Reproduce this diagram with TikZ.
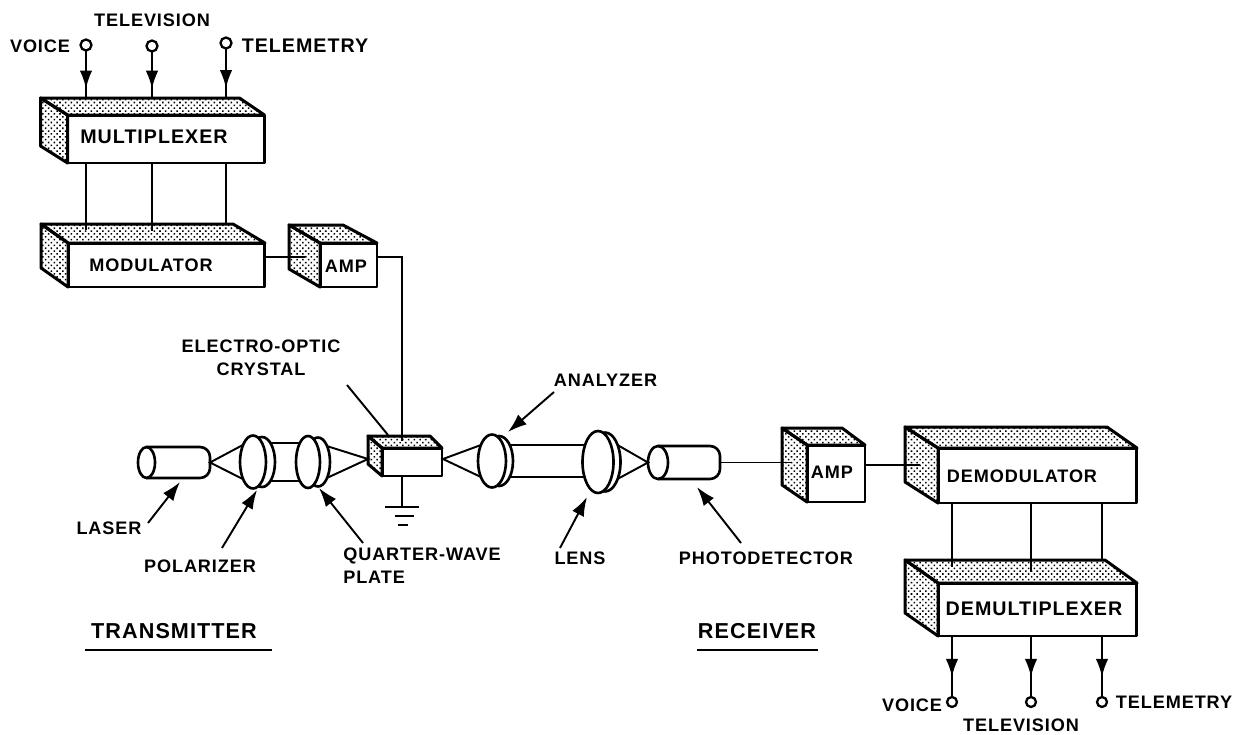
\documentclass[tikz,border=0pt]{standalone}
\usepackage{fontspec}
\setmainfont[LetterSpace=5]{Liberation Sans}
\usetikzlibrary{arrows.meta,patterns.meta,decorations.markings,shapes.geometric}

\tikzset{
  block/.style={draw,line width=1.7pt,fill=white,inner sep=0pt,outer sep=0pt,line join=round},
  stipple/.style={draw,line width=1.7pt,line join=round,pattern={Dots[distance=2.3pt,radius=0.62pt,angle=45]}},
  wire/.style={line width=1.1pt},
  port/.style={circle,draw,line width=1.3pt,fill=white,minimum size=0.22cm,inner sep=0pt,outer sep=0pt},
  lbl/.style={font=\fontsize{10.3pt}{13pt}\selectfont\bfseries,inner sep=0pt},
  widelbl/.style={font=\fontsize{11.2pt}{13pt}\selectfont\bfseries,inner sep=0pt},
  biglbl/.style={font=\fontsize{12.3pt}{13pt}\selectfont\bfseries,inner sep=0pt},
  signal/.style={wire,postaction={decorate},decoration={markings,mark=at position #1 with {\arrow{Latex[length=0.36cm,width=0.25cm]}}}},
  callout/.style={line width=1.1pt,-{Latex[length=0.38cm,width=0.26cm]}},
  glass/.style={ellipse,draw,line width=1.5pt,fill=white,inner sep=0pt,outer sep=0pt},
  tube/.style={inner sep=0pt,outer sep=0pt},
  beam/.style={line width=1.1pt}
}

% shaded top and side of a block: name, left shift, right shift, rise
\newcommand{\blockfaces}[4]{
  \coordinate (#1b) at ([shift={(-#2,-#4)}]#1.north west);
  \coordinate (#1c) at ([shift={(-#3,-#4)}]#1.north east);
  \coordinate (#1d) at ([shift={(-#2,-#4)}]#1.south west);
  \draw[stipple] (#1.north west)--(#1b)--(#1c)--(#1.north east)--cycle;
  \draw[stipple] (#1.north west)--(#1b)--(#1d)--(#1.south west)--cycle;
}

\begin{document}
\begin{tikzpicture}[x=0.02cm,y=-0.02cm]
\useasboundingbox (0,0) rectangle (1248,734);

% transmitter blocks
\node[block,minimum width=3.94cm,minimum height=0.96cm] (mux) at (166,139) {};
\node[block,minimum width=3.94cm,minimum height=0.88cm] (mod) at (166.5,265) {};
\node[block,minimum width=1.14cm,minimum height=0.88cm] (amp) at (348.5,265) {};
\node[block,minimum width=1.2cm,minimum height=0.56cm] (crystal) at (412,462) {};
\blockfaces{mux}{27}{25}{17}
\blockfaces{mod}{27}{32}{19}
\blockfaces{amp}{31}{34}{18}
\blockfaces{crystal}{14}{12}{12}

% receiver blocks
\node[block,minimum width=1.16cm,minimum height=1.14cm] (ampb) at (836,473.5) {};
\node[block,minimum width=3.98cm,minimum height=1.1cm] (demod) at (1037.5,475.5) {};
\node[block,minimum width=3.98cm,minimum height=1.06cm] (demux) at (1037.5,609.5) {};
\blockfaces{ampb}{25}{23}{17}
\blockfaces{demod}{33}{30}{21}
\blockfaces{demux}{33}{32}{23}

\node[widelbl] (muxtext) at (154,137) {MULTIPLEXER};
\node[lbl] (modtext) at (151,265) {MODULATOR};
\node[lbl] (amptext) at (346,266) {AMP};
\node[lbl] (ampbtext) at (832,472) {AMP};
\node[lbl] (demodtext) at (1022,476) {DEMODULATOR};
\node[widelbl] (demuxtext) at (1034,609) {DEMULTIPLEXER};

% input side
\node[port] (pva) at (86,45) {};
\node[port] (pvb) at (152,46) {};
\node[port] (pvc) at (226,43) {};
\node[lbl] (voicea) at (40,46) {VOICE};
\node[lbl] (tva) at (152,20) {TELEVISION};
\node[widelbl] (telea) at (305,46) {TELEMETRY};
\draw[signal=0.8] (pva) -- (pva |- muxb);
\draw[signal=0.8] (pvb) -- (pvb |- muxb);
\draw[signal=0.8] (pvc) -- (pvc |- muxb);

\coordinate (moda) at (86,230);
\coordinate (modb) at (152,231);
\coordinate (modc) at (226,225);
\draw[wire] (moda |- mux.south) -- (moda);
\draw[wire] (modb |- mux.south) -- (modb);
\draw[wire] (modc |- mux.south) -- (modc);

\coordinate (ampin) at (305,257);
\coordinate (amprise) at (402,257);
\coordinate (crytop) at (402,441);
\coordinate (crybot) at (402,476);
\coordinate (gnd) at (402,507);
\draw[wire] (ampin -| mod.east) -- (ampin);
\draw[wire] (amprise -| amp.east) -- (amprise) -- (crytop);
\draw[wire] (crybot) -- (gnd);
\draw[line width=1.5pt] (385,507) -- (419,507);
\draw[line width=1.5pt] (395,516) -- (414,516);
\draw[line width=1.5pt] (398,525) -- (408,525);

% optical train
\node[tube,minimum width=1.26cm,minimum height=0.62cm] (laser) at (178.5,462.5) {};
\node[glass,minimum width=0.34cm,minimum height=0.62cm] (laserend) at (146.5,462.5) {};
\draw[line width=1.5pt,rounded corners=0.2cm] (laserend.north) -- (laser.north east) -- (laser.south east) -- (laserend.south);

\node[glass,minimum width=0.52cm,minimum height=1cm] (polrim) at (262,462) {};
\node[glass,minimum width=0.52cm,minimum height=1.06cm] (pol) at (253,462) {};
\node[glass,minimum width=0.48cm,minimum height=0.98cm] (qwprim) at (318,462) {};
\node[glass,minimum width=0.48cm,minimum height=1.04cm] (qwp) at (308,462) {};
\node[glass,minimum width=0.56cm,minimum height=1cm] (anarim) at (499,461) {};
\node[glass,minimum width=0.56cm,minimum height=1.06cm] (ana) at (492,461) {};
\node[glass,minimum width=0.62cm,minimum height=1.18cm] (lensrim) at (605,462) {};
\node[glass,minimum width=0.62cm,minimum height=1.24cm] (lens) at (598,462) {};

\node[tube,minimum width=1.24cm,minimum height=0.66cm] (photo) at (689,462.5) {};
\node[glass,minimum width=0.4cm,minimum height=0.66cm] (photoend) at (658,462.5) {};
\draw[line width=1.5pt,rounded corners=0.2cm] (photoend.north) -- (photo.north east) -- (photo.south east) -- (photoend.south);

\coordinate (cryl) at (368,459);
\coordinate (cryr) at (443,459);
\draw[beam] (pol.120) -- (laser.east) -- (pol.240);
\draw[beam] (polrim.65) -- (polrim.65 -| qwp.113);
\draw[beam] (polrim.-65) -- (polrim.-65 -| qwp.-113);
\draw[beam] (qwprim.60) -- (cryl) -- (qwprim.-60);
\draw[beam] (ana.125) -- (cryr) -- (ana.235);
\draw[beam] (anarim.55) -- (anarim.55 -| lens.127);
\draw[beam] (anarim.-55) -- (anarim.-55 -| lens.233);
\draw[beam] (lensrim.53) -- (photoend.west) -- (lensrim.-53);

% output side
\coordinate (ampbin) at (792,462.5);
\coordinate (demodin) at (920,465);
\draw[wire] (photo.east) -- (ampbin);
\draw[wire] (demodin -| ampb.east) -- (demodin);

\coordinate (demuxa) at (952,567);
\coordinate (demuxb) at (1031,572);
\coordinate (demuxc) at (1102,560);
\draw[wire] (demuxa |- demod.south) -- (demuxa);
\draw[wire] (demuxb |- demod.south) -- (demuxb);
\draw[wire] (demuxc |- demod.south) -- (demuxc);

\node[port,minimum size=0.2cm] (pwa) at (952,702) {};
\node[port,minimum size=0.2cm] (pwb) at (1031,702) {};
\node[port,minimum size=0.2cm] (pwc) at (1102,702) {};
\draw[signal=0.67] (pwa |- demux.south) -- (pwa);
\draw[signal=0.67] (pwb |- demux.south) -- (pwb);
\draw[signal=0.67] (pwc |- demux.south) -- (pwc);
\node[lbl] (voiceb) at (912,705) {VOICE};
\node[lbl] (tvb) at (1021,725) {TELEVISION};
\node[lbl] (teleb) at (1174,702) {TELEMETRY};

% labels with their pointers
\node[lbl,align=center] (crylabel) at (261,358) {ELECTRO-OPTIC\\CRYSTAL};
\node[lbl] (laserlabel) at (109,528) {LASER};
\node[lbl] (pollabel) at (200,566) {POLARIZER};
\node[lbl,align=left] (qwplabel) at (422,566) {QUARTER-WAVE\\PLATE};
\node[lbl] (analabel) at (605.5,380) {ANALYZER};
\node[lbl] (lenslabel) at (580,558) {LENS};
\node[lbl] (photolabel) at (766,558) {PHOTODETECTOR};

\coordinate (cryptr) at (347,385);
\coordinate (crytip) at (388,435);
\coordinate (laserptr) at (148,523);
\coordinate (lasertip) at (180,482);
\coordinate (polptr) at (222,548);
\coordinate (poltip) at (257,490);
\coordinate (qwpptr) at (363,543);
\coordinate (qwptip) at (319,488);
\coordinate (anaptr) at (554,392);
\coordinate (anatip) at (508,432);
\coordinate (lensptr) at (560,548);
\coordinate (lenstip) at (587,497);
\coordinate (photoptr) at (741,543);
\coordinate (phototip) at (697,487);
\draw[wire] (cryptr) -- (crytip);
\draw[callout] (laserptr) -- (lasertip);
\draw[callout] (polptr) -- (poltip);
\draw[callout] (qwpptr) -- (qwptip);
\draw[callout] (anaptr) -- (anatip);
\draw[callout] (lensptr) -- (lenstip);
\draw[callout] (photoptr) -- (phototip);

\node[biglbl] (txlabel) at (174,631) {TRANSMITTER};
\node[biglbl] (rxlabel) at (757,631) {RECEIVER};
\draw[wire] (85,650) -- (272,650);
\draw[wire] (697,650) -- (818,650);
\end{tikzpicture}
\end{document}
